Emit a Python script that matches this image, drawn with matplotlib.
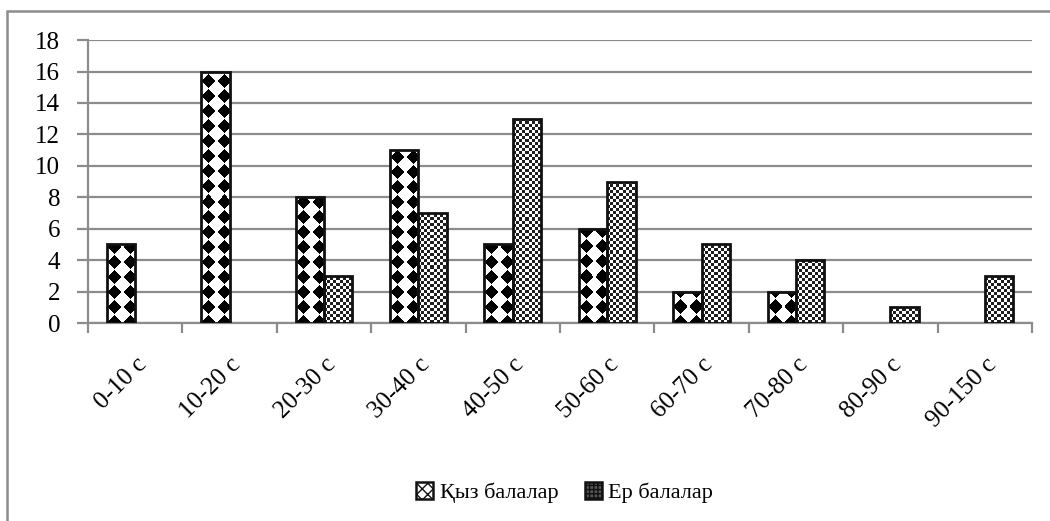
import numpy as np
import matplotlib
matplotlib.use("Agg")
import matplotlib.pyplot as plt
from matplotlib.patches import Rectangle, Patch

plt.rcParams['font.family'] = ['Liberation Serif', 'DejaVu Serif']

categories = ["0-10 с", "10-20 с", "20-30 с", "30-40 с", "40-50 с",
              "50-60 с", "60-70 с", "70-80 с", "80-90 с", "90-150 с"]
girls = [5, 16, 8, 11, 5, 6, 2, 2, 0, 0]
boys = [0, 0, 3, 7, 13, 9, 5, 4, 1, 3]
series_names = ["Қыз балалар", "Ер балалар"]
yticks = list(range(0, 20, 2))

grid_col = "#8c8c8c"

fig = plt.figure(figsize=(10.5, 5.21), dpi=100)
ax = fig.add_axes([0.0838, 0.380, 0.8991, 0.543])

x = np.arange(len(categories))
w = 0.3


def diamond_tex(h, wd):
    # black diamonds on white
    p = 15.0
    i, j = np.mgrid[0:h, 0:wd]
    u = np.abs((i + 7) % p - p / 2)
    v = np.abs((j + 0.5) % p - p / 2)
    return np.where(u + v < 6.8, 0.0, 1.0)


def checker_tex(h, wd):
    i, j = np.mgrid[0:h, 0:wd]
    return np.where(((i // 3) + (j // 3)) % 2 == 0, 0.12, 1.0)


ax.set_xlim(-0.5, len(categories) - 0.5)
ax.set_ylim(0, 18)

b1 = ax.bar(x - w / 2, girls, w, facecolor="none", edgecolor="#111111", linewidth=2, zorder=4)
b2 = ax.bar(x + w / 2, boys, w, facecolor="none", edgecolor="#111111", linewidth=2, zorder=4)

for bars, tex in [(b1, diamond_tex), (b2, checker_tex)]:
    for p in bars:
        if p.get_height() <= 0:
            p.set_linewidth(0)
            continue
        x0, y0 = p.get_x(), p.get_y()
        x1, y1 = x0 + p.get_width(), y0 + p.get_height()
        (px0, py0), (px1, py1) = ax.transData.transform([(x0, y0), (x1, y1)])
        arr = tex(max(int(round(py1 - py0)), 1), max(int(round(px1 - px0)), 1))
        im = ax.imshow(arr, cmap="gray", vmin=0, vmax=1, extent=(x0, x1, y0, y1),
                       origin="lower", aspect="auto", interpolation="nearest", zorder=3)
        im.set_clip_path(p)

ax.set_xlim(-0.5, len(categories) - 0.5)
ax.set_ylim(0, 18)

ax.set_yticks(yticks)
ax.set_yticklabels([str(t) for t in yticks], fontsize=18)
ax.yaxis.grid(True, color=grid_col, linewidth=1.6, zorder=0)
ax.set_axisbelow(True)

ax.set_xticks(x)
ax.set_xticklabels(categories, fontsize=18, rotation=45, ha="right",
                   rotation_mode="anchor")
ax.tick_params(axis="x", length=0, pad=22)
ax.set_xticks(np.arange(-0.5, len(categories), 1.0), minor=True)
ax.tick_params(axis="x", which="minor", length=7, width=1.6, color=grid_col)
ax.tick_params(axis="y", length=8, width=1.6, color=grid_col, pad=12)

for s in ["top", "right"]:
    ax.spines[s].set_visible(False)
for s in ["left", "bottom"]:
    ax.spines[s].set_color(grid_col)
    ax.spines[s].set_linewidth(1.6)

handles = [Patch(facecolor="white", edgecolor="#111111", hatch="xxx", linewidth=1.8),
           Patch(facecolor="#555555", edgecolor="#111111", hatch="++++", linewidth=1.8)]
fig.legend(handles, series_names, loc="center", bbox_to_anchor=(0.538, 0.054),
           ncol=2, frameon=False, fontsize=16, handlelength=0.75, handleheight=0.75,
           handletextpad=0.3, columnspacing=1.2)

fig.add_artist(Rectangle((0.0067, -0.1), 1.2, 1.079, transform=fig.transFigure,
                         fill=False, edgecolor=grid_col, linewidth=1.8, clip_on=False))

fig.savefig("out.png", dpi=100)
